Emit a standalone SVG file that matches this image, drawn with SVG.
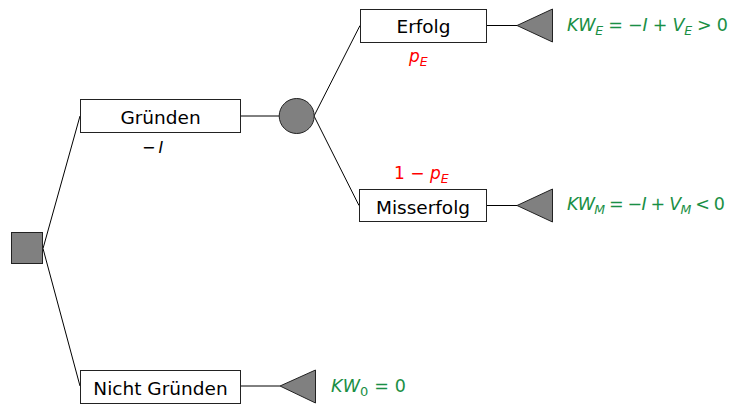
<svg xmlns="http://www.w3.org/2000/svg" width="731" height="405" viewBox="0 0 731 405">
<style>
.box{fill:#fff;stroke:#222;stroke-width:1}
.shape{fill:#808080;stroke:#222;stroke-width:1}
.lbl{font-family:"DejaVu Sans",Verdana,sans-serif;font-size:18.5px;fill:#000;text-anchor:middle}
.eq{font-family:"DejaVu Sans",Verdana,sans-serif;font-size:17.5px;fill:#1a8f45}
.red{font-family:"DejaVu Sans",Verdana,sans-serif;font-size:17px;fill:#ff0000}
.it{font-style:italic}
.sub{font-size:12.5px;font-style:italic}
.sub0{font-size:13px}
.conn line{stroke:#000;stroke-width:1}
</style>
<rect width="731" height="405" fill="#fff"/>
<g id="connectors" class="conn">
<line x1="43" y1="248.5" x2="80" y2="116"/>
<line x1="43" y1="248.5" x2="80" y2="386"/>
<line x1="241" y1="116" x2="279" y2="116"/>
<line x1="314" y1="116" x2="360" y2="25.5"/>
<line x1="314" y1="116" x2="359" y2="205.5"/>
<line x1="487" y1="25.5" x2="517" y2="25.5"/>
<line x1="486" y1="205.5" x2="517" y2="205.5"/>
<line x1="241" y1="386" x2="280" y2="386"/>
</g>
<g id="decision"><rect class="shape" x="11.5" y="232.5" width="31" height="31"/></g>
<g id="gruenden">
<rect class="box" x="80.5" y="99.5" width="160" height="33"/>
<text class="lbl" x="160.5" y="124">Gründen</text>
<text x="142" y="153" font-family="DejaVu Sans,sans-serif" font-size="16">−<tspan class="it" dx="3">I</tspan></text>
</g>
<g id="chance"><circle class="shape" cx="296.7" cy="116" r="17.5"/></g>
<g id="erfolg">
<rect class="box" x="360.5" y="9.5" width="126" height="33"/>
<text class="lbl" x="423.5" y="33">Erfolg</text>
<text class="red" x="409" y="62"><tspan class="it">p</tspan><tspan class="sub" dy="4">E</tspan></text>
</g>
<g id="misserfolg">
<rect class="box" x="359.5" y="189.5" width="127" height="32"/>
<text class="lbl" x="423" y="214">Misserfolg</text>
<text class="red" x="394" y="179">1 − <tspan class="it">p</tspan><tspan class="sub" dy="4">E</tspan></text>
</g>
<g id="nicht-gruenden">
<rect class="box" x="80.5" y="370.5" width="160" height="33"/>
<text class="lbl" x="160.5" y="395">Nicht Gründen</text>
</g>
<g id="end-erfolg">
<polygon class="shape" points="517,25.5 552.5,9 552.5,42"/>
<text class="eq" x="567" y="31" textLength="161" lengthAdjust="spacing"><tspan class="it">KW</tspan><tspan class="sub" dy="4">E</tspan><tspan dy="-4"> = −</tspan><tspan class="it">I</tspan><tspan> + </tspan><tspan class="it">V</tspan><tspan class="sub" dy="4">E</tspan><tspan dy="-4"> &gt; 0</tspan></text>
</g>
<g id="end-misserfolg">
<polygon class="shape" points="517,205.5 552.5,189 552.5,222"/>
<text class="eq" x="567" y="210" textLength="158" lengthAdjust="spacing"><tspan class="it">KW</tspan><tspan class="sub" dy="4">M</tspan><tspan dy="-4"> = −</tspan><tspan class="it">I</tspan><tspan> + </tspan><tspan class="it">V</tspan><tspan class="sub" dy="4">M</tspan><tspan dy="-4"> &lt; 0</tspan></text>
</g>
<g id="end-nicht">
<polygon class="shape" points="280,386 315.5,370 315.5,403"/>
<text class="eq" x="331" y="392" textLength="75" lengthAdjust="spacing"><tspan class="it">KW</tspan><tspan class="sub0" dy="4">0</tspan><tspan dy="-4"> = 0</tspan></text>
</g>
</svg>
